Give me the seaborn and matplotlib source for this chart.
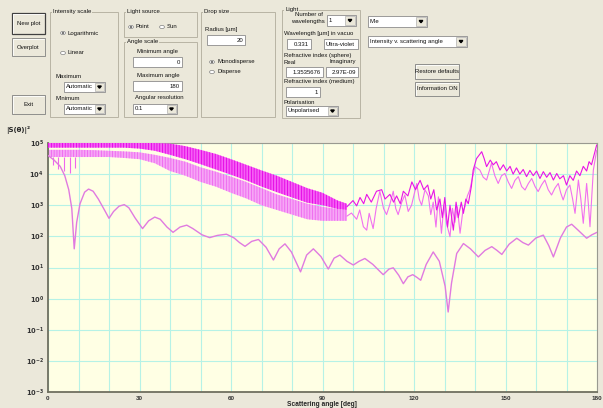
import matplotlib
matplotlib.use('Agg')
import matplotlib.pyplot as plt
from matplotlib.patches import Rectangle, Circle, Polygon
from matplotlib.lines import Line2D
from matplotlib.ticker import NullLocator
import numpy as np
import seaborn as sns

# ---- data (angle in deg, intensity as log10 exponent) ----
# smooth lower curve
smooth_deg = [0, 2, 4, 5.5, 6.8, 7.8, 8.6, 9.4, 10.5, 12, 13.3, 14.8, 16.5, 18.5, 20,
              21.5, 23.3, 25, 26.5, 28.5, 31, 33, 35, 36.8, 39, 41, 43.3, 45.5, 47.5,
              50.5, 53, 55.5, 58.5, 61, 62.8, 64.6, 66.8, 69, 71.5, 73.9, 75.8, 77.7,
              79.8, 82.8, 84.8, 87, 89.5, 91.9, 93.8, 95.7, 98, 100.1, 102, 103.9,
              106.5, 109.9, 111.8, 113.2, 115, 116.5, 118, 119.6, 121, 122.2, 124,
              126.3, 128.3, 130.2, 131.2, 132.3, 134, 136.2, 138.5, 141.1, 143.3,
              145.5, 147.2, 148.8, 151.2, 153.7, 155.7, 157.5, 160, 162.4, 164.2,
              165.7, 168, 170, 171.7, 173.8, 176.6, 178.3, 180]
smooth_exp = [4.6, 4.45, 4.25, 3.95, 3.5, 2.9, 1.6, 2.45, 3.05, 3.42, 3.52, 3.45, 3.2,
              2.85, 2.58, 2.8, 2.97, 3.02, 2.92, 2.6, 2.25, 2.5, 2.62, 2.55, 2.3, 2.13,
              2.3, 2.36, 2.25, 2.05, 1.96, 2.03, 2.07, 1.95, 1.8, 1.68, 1.84, 1.9, 1.65,
              1.24, 1.6, 1.76, 1.5, 0.86, 1.4, 1.6, 1.35, 0.95, 1.3, 1.4, 1.2, 1.08,
              1.2, 1.29, 1.1, 0.77, 0.95, 0.99, 0.75, 0.48, 0.7, 0.77, 0.68, 0.59, 1.1,
              1.5, 1.2, 0.4, -0.43, 0.5, 1.45, 1.77, 1.6, 1.34, 1.55, 1.67, 1.55, 1.42,
              1.75, 1.94, 1.8, 1.72, 1.95, 2.04, 1.7, 1.34, 1.95, 2.3, 2.39, 2.2, 1.94,
              2.05, 2.13]

# dense oscillating curves up to ~98 deg, drawn as their envelopes
band_deg = [0, 5, 10, 15, 20, 25, 30, 35, 40, 45, 50, 55, 60, 65, 70, 75, 80, 85, 90, 95, 98]
a_hi = [5.1, 5.1, 5.1, 5.1, 5.1, 5.1, 5.05, 5.0, 4.98, 4.9, 4.78, 4.65, 4.48, 4.3,
        4.12, 3.95, 3.75, 3.55, 3.4, 3.15, 3.05]
a_lo = [4.85, 4.85, 4.85, 4.85, 4.85, 4.85, 4.82, 4.75, 4.62, 4.48, 4.32, 4.15, 3.98,
        3.8, 3.6, 3.42, 3.25, 3.08, 3.0, 2.88, 2.85]
b_hi = [4.78, 4.78, 4.78, 4.77, 4.75, 4.73, 4.7, 4.62, 4.52, 4.4, 4.22, 4.08, 3.92,
        3.75, 3.55, 3.35, 3.2, 3.05, 2.95, 2.88, 2.85]
b_lo = [4.55, 4.55, 4.55, 4.55, 4.55, 4.52, 4.48, 4.35, 4.1, 3.95, 3.75, 3.6, 3.4,
        3.22, 3.0, 2.85, 2.7, 2.55, 2.5, 2.5, 2.5]

# downward spikes of the light curve near forward direction
spike_deg = [1.5, 3.3, 5.2, 7.2, 9.0]
spike_exp = [4.3, 4.15, 4.1, 4.05, 4.2]

# wiggly tails beyond ~98 deg
a_tail_deg = [98, 100, 101.2, 102.3, 103.5, 104.5, 106, 107.7, 109.4, 110.5, 112.1,
              113.3, 114.3, 115.5, 116.5, 118, 119.3, 120.5, 122, 123.2, 124.5, 125.5,
              126.5, 127.4, 128.5, 129.3, 130.1, 131, 131.8, 132.9, 133.8, 134.5,
              135.5, 136.2, 137, 137.8, 138.8, 139.4, 140.5, 142.2, 143, 143.8, 145,
              146, 147, 148.2, 149.3, 150.4, 151.5, 152.5, 153.6, 154.7, 155.8, 156.9,
              158, 159.1, 160.2, 161.3, 162.4, 163.5, 164.6, 165.7, 166.8, 167.8, 169,
              170, 171.1, 172.2, 173.3, 174.4, 175.5, 176.6, 177.4, 178.2, 179, 179.9]
a_tail_exp = [2.95, 3.15, 2.98, 3.25, 3.05, 3.35, 3.1, 3.45, 3.5, 3.2, 3.35, 3.1, 3.3,
              3.05, 3.45, 3.3, 3.75, 3.5, 3.8, 3.5, 3.65, 3.2, 3.5, 2.85, 3.2, 2.6, 3.25,
              2.3, 3.0, 2.2, 3.1, 2.6, 3.1, 2.74, 3.2, 3.05, 3.6, 4.13, 4.5, 4.72, 4.5,
              4.24, 4.45, 4.3, 4.4, 4.13, 4.3, 4.1, 4.25, 4.0, 4.2, 4.0, 4.15, 3.92,
              4.12, 3.95, 4.1, 3.86, 4.08, 3.9, 4.05, 3.81, 4.02, 3.85, 3.95, 3.65, 3.95,
              3.8, 4.1, 3.95, 4.25, 4.1, 4.4, 4.3, 4.6, 4.94]
b_tail_deg = [98, 99.5, 101.2, 102.2, 103.4, 104.5, 105.3, 106.6, 107.6, 108.8, 110,
              111, 112, 113.2, 114, 114.8, 116, 117, 118.1, 119.2, 120.9, 121.7, 122.5,
              123.6, 124.7, 125.5, 126.3, 127.2, 128, 129, 129.8, 130.7, 131.8, 132.6,
              133.4, 134.2, 135.1, 136, 136.7, 137.5, 138.3, 139.2, 140, 141.6, 142.7,
              143.8, 145.4, 146.5, 147.6, 148.7, 149.8, 150.9, 152, 153.1, 154.2, 155.3,
              156.4, 157.5, 158.6, 159.7, 160.7, 161.8, 162.9, 164, 165.1, 166.2, 167.3,
              168.1, 168.9, 170, 171.1, 172, 172.8, 173.9, 174.7, 175.5, 176.6, 177.2,
              177.7, 178.8, 179.9]
b_tail_exp = [2.65, 2.75, 2.55, 2.85, 2.31, 2.2, 2.74, 2.25, 2.9, 3.45, 2.9, 2.7, 3.0,
              3.45, 2.9, 2.7, 3.1, 3.33, 2.8, 3.0, 3.7, 3.2, 3.0, 3.5, 3.3, 2.7, 3.1,
              2.3, 3.27, 2.1, 3.0, 2.4, 1.99, 2.9, 2.45, 2.95, 2.1, 2.8, 2.95, 3.3, 3.49,
              3.9, 4.24, 4.13, 3.9, 3.81, 4.35, 3.95, 3.7, 3.95, 4.02, 3.75, 3.54, 3.8,
              3.92, 3.6, 3.49, 3.7, 3.86, 3.6, 3.44, 3.65, 3.81, 3.5, 3.33, 3.55, 3.7,
              3.4, 3.17, 3.5, 3.65, 3.2, 2.74, 3.81, 3.2, 2.42, 3.7, 3.0, 2.31, 4.13, 4.77]

y_exps = [-3, -2, -1, 0, 1, 2, 3, 4, 5]
x_labels = [0, 30, 60, 90, 120, 150, 180]

# ---- figure / GUI helpers (pixel coordinates, origin top-left) ----
W, H = 603, 408
BG = '#ebe8da'
GUI_FONT = 'Liberation Sans'
FS = 4.3

sns.set_style('white')
plt.rcParams['font.family'] = ['Liberation Sans', 'DejaVu Sans']
plt.rcParams['hatch.linewidth'] = 0.6
fig = plt.figure(figsize=(W / 100, H / 100), dpi=100, facecolor=BG)


def fx(x):
    return x / W


def fy(y):
    return 1 - y / H


def rect(x0, y0, x1, y1, face, edge, lw=0.6, z=1):
    fig.add_artist(Rectangle((fx(x0), fy(y1)), (x1 - x0) / W, (y1 - y0) / H,
                             transform=fig.transFigure, facecolor=face,
                             edgecolor=edge, lw=lw, zorder=z))


def line(xs, ys, color, lw=0.6, z=3):
    fig.add_artist(Line2D([fx(v) for v in xs], [fy(v) for v in ys],
                          transform=fig.transFigure, color=color, lw=lw, zorder=z))


def label(x, y, s, ha='left', bg=None):
    t = fig.text(fx(x), fy(y), s, fontsize=FS, family=GUI_FONT, ha=ha, va='center',
                 color='#111111', zorder=5)
    if bg is not None:
        t.set_bbox(dict(facecolor=bg, edgecolor='none', pad=0.4))


def button(x0, y0, x1, y1, s, default=False):
    rect(x0, y0, x1, y1, BG, '#404040' if default else '#808080', lw=0.9 if default else 0.6)
    line([x0 + 1, x0 + 1, x1 - 1], [y1 - 1, y0 + 1, y0 + 1], 'white', lw=0.6)
    label((x0 + x1) / 2, (y0 + y1) / 2, s, ha='center')


def group(x0, y0, x1, y1, title):
    rect(x0, y0, x1, y1, 'none', '#b8b4a4', lw=0.7)
    label(x0 + 3, y0, title, bg=BG)


def textbox(x0, y0, x1, y1, s, ha='right'):
    rect(x0, y0, x1, y1, 'white', '#8c8c8c', lw=0.6)
    label(x1 - 2 if ha == 'right' else x0 + 2, (y0 + y1) / 2, s, ha=ha)


def combo(x0, y0, x1, y1, s):
    rect(x0, y0, x1, y1, 'white', '#8c8c8c', lw=0.6)
    bw = (y1 - y0)
    rect(x1 - bw, y0 + 1, x1 - 1, y1 - 1, BG, '#a0a0a0', lw=0.4)
    cx, cy = x1 - bw / 2 - 0.5, (y0 + y1) / 2
    fig.add_artist(Polygon([(fx(cx - 1.8), fy(cy - 1)), (fx(cx + 1.8), fy(cy - 1)),
                            (fx(cx), fy(cy + 1.2))], closed=True,
                           transform=fig.transFigure, color='black', zorder=4))
    label(x0 + 2, cy, s)


def radio(x, y, s, checked=False):
    r = 2.4
    fig.add_artist(Circle((fx(x), fy(y)), r / W, transform=fig.transFigure,
                          facecolor='white', edgecolor='#808080', lw=0.5, zorder=3))
    if checked:
        fig.add_artist(Circle((fx(x), fy(y)), 1.0 / W, transform=fig.transFigure,
                              facecolor='black', edgecolor='none', zorder=4))
    label(x + 5, y, s)


# buttons on the left
button(12, 13, 45, 34, 'New plot', default=True)
button(12, 38, 45, 56, 'Overplot')
button(12, 95, 45, 114, 'Exit')

# intensity scale
group(50, 12, 118, 117, 'Intensity scale')
radio(63, 33, 'Logarithmic', checked=True)
radio(63, 53, 'Linear')
label(55, 76, 'Maximum')
combo(64, 82, 105, 92, 'Automatic')
label(55, 98, 'Minimum')
combo(64, 104, 105, 114, 'Automatic')

# light source / angle scale
group(124, 12, 197, 37, 'Light source')
radio(131, 27, 'Point', checked=True)
radio(162, 27, 'Sun')
group(124, 42, 197, 117, 'Angle scale')
label(137, 51, 'Minimum angle')
textbox(133, 57, 182, 67, '0')
label(137, 75, 'Maximum angle')
textbox(133, 81, 182, 91, '180')
label(135, 98, 'Angular resolution')
combo(133, 104, 177, 114, '0.1')

# drop size
group(201, 12, 275, 117, 'Drop size')
label(205, 29, 'Radius [µm]')
textbox(207, 35, 245, 45, '20')
radio(212, 62, 'Monodisperse', checked=True)
radio(212, 72, 'Disperse')

# light
group(282, 10, 360, 118, 'Light')
label(323, 15, 'Number of', ha='right')
label(325, 21, 'wavelengths', ha='right')
combo(327, 15, 356, 26, '1')
label(284, 33, 'Wavelength [µm] in vacuo')
textbox(287, 39, 311, 49, '0.331')
textbox(324, 39, 358, 49, 'Ultra-violet', ha='left')
label(284, 56, 'Refractive index (sphere)')
label(284, 62, 'Real')
label(330, 62, 'Imaginary')
textbox(286, 67, 323, 77, '1.3535676')
textbox(326, 67, 358, 77, '2.97E-09')
label(284, 82, 'Refractive index (medium)')
textbox(286, 87, 320, 97, '1')
label(284, 102, 'Polarisation')
combo(286, 106, 338, 116, 'Unpolarised')

# right-hand controls
combo(368, 16, 427, 27, 'Mie')
combo(368, 36, 467, 47, 'Intensity v. scattering angle')
button(415, 64, 459, 79, 'Restore defaults')
button(415, 82, 459, 96, 'Information ON')

# ---- the plot ----
ax = fig.add_axes([fx(48), fy(392), (597 - 48) / W, (392 - 143) / H])
ax.set_facecolor('#ffffe4')


def p(v):
    return 10.0 ** np.asarray(v, dtype=float)


# light (pink) curve: band + spikes + tail
ax.fill_between(band_deg, p(b_lo), p(b_hi), facecolor='#f6a6f6', edgecolor='#ee66ee',
                hatch='||||||', lw=0, zorder=2)
ax.vlines(spike_deg, p(b_lo[0]), p(spike_exp), color='#ee66ee', lw=0.8, zorder=2)
sns.lineplot(x=b_tail_deg, y=p(b_tail_exp), ax=ax, color='#f070f0', lw=0.8, zorder=3)

# bright magenta curve: band + tail
ax.fill_between(band_deg, p(a_lo), p(a_hi), facecolor='#f560f5', edgecolor='#e400e4',
                hatch='||||||', lw=0, zorder=3)
sns.lineplot(x=a_tail_deg, y=p(a_tail_exp), ax=ax, color='#e814e8', lw=0.8, zorder=4)

# smooth curve
sns.lineplot(x=smooth_deg, y=p(smooth_exp), ax=ax, color='#e07ae0', lw=1.0, zorder=5)

ax.set_yscale('log')
ax.set_xlim(0, 180)
ax.set_ylim(1e-3, 1e5)
ax.set_xticks(x_labels)
ax.set_xticks(range(0, 181, 10), minor=True)
ax.set_yticks(p(y_exps))
ax.yaxis.set_minor_locator(NullLocator())
ax.set_xticklabels([str(v) for v in x_labels], fontsize=4.5, fontweight='bold',
                   color='#333333')
ax.set_yticklabels([r'$\mathbf{10}^{\mathbf{%d}}$' % e for e in y_exps], fontsize=4.8,
                   color='#333333')
ax.grid(True, which='both', axis='x', color='#b6f2e6', lw=0.8)
ax.grid(True, which='major', axis='y', color='#b6f2e6', lw=0.8)
ax.set_axisbelow(True)
ax.tick_params(axis='both', which='both', direction='inout', length=3, width=0.8,
               color='#606060', pad=1.5)
for side in ['left', 'bottom']:
    ax.spines[side].set_color('#707060')
    ax.spines[side].set_linewidth(1.3)
for side in ['top', 'right']:
    ax.spines[side].set_color('#9a9a90')
    ax.spines[side].set_linewidth(0.8)
ax.set_xlabel('')
ax.set_ylabel('')

fig.text(fx(6), fy(130), '|S(θ)|²', fontsize=5, fontweight='bold', family='DejaVu Sans',
         va='center')
# axis title sits right at the bottom edge of the screenshot
fig.text(fx(322), fy(407.5), 'Scattering angle [deg]', fontsize=4.8, fontweight='bold',
         ha='center', va='bottom')

fig.savefig('out.png', dpi=100, facecolor=BG)
